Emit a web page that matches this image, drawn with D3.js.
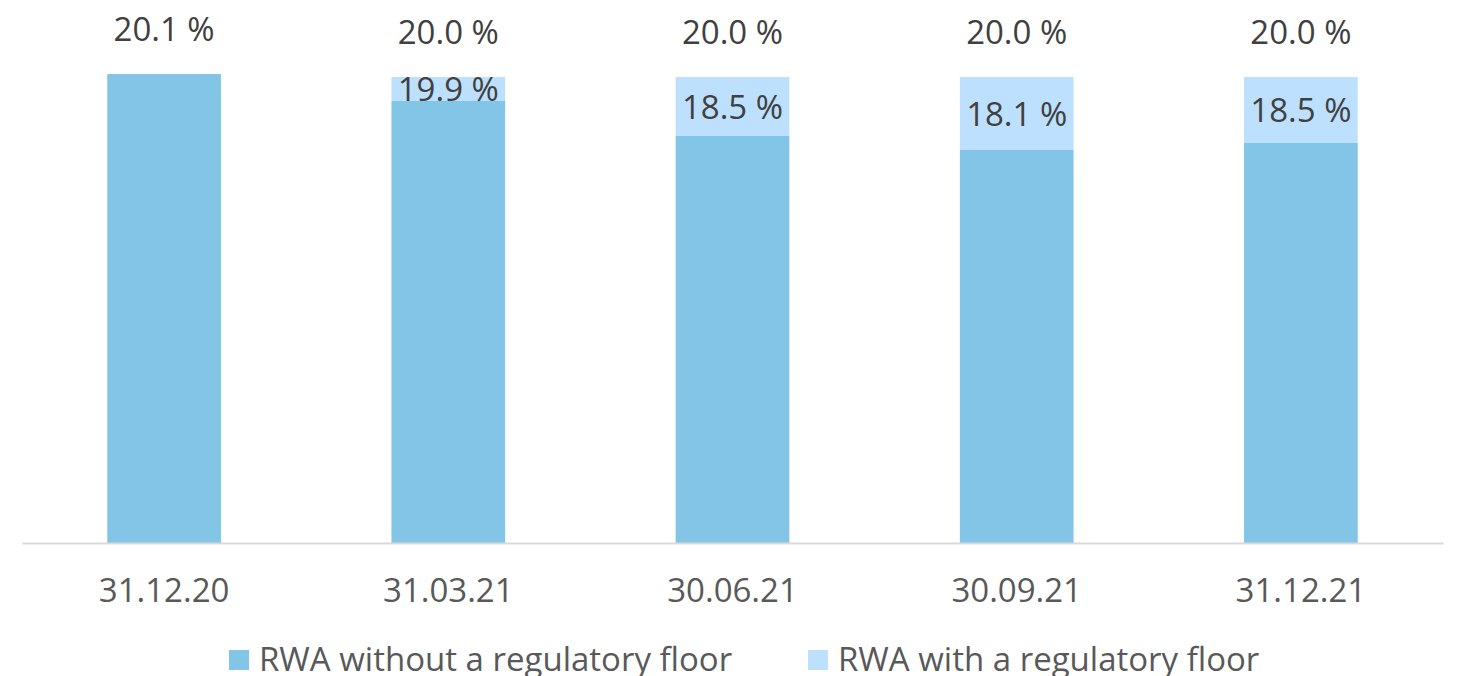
<!DOCTYPE html>
<html>
<head>
<meta charset="utf-8">
<script src="https://cdn.jsdelivr.net/npm/d3@7/dist/d3.min.js"></script>
<style>
  html, body { margin: 0; padding: 0; background: #ffffff; }
  svg { display: block; }
  text { font-family: "Open Sans", "Noto Sans", sans-serif; }
</style>
</head>
<body>
<svg id="chart" width="1463" height="676"></svg>
<script>
// Reporting dates
const dates = ["31.12.20", "31.03.21", "30.06.21", "30.09.21", "31.12.21"];
// RWA amounts (bn) without the regulatory floor
const rwaWithoutFloor = [46.9, 44.2, 40.7, 39.3, 40.0];
// Additional RWA from applying the regulatory floor (bn)
const floorAddOn = [0, 2.4, 5.9, 7.3, 6.6];
// Capital ratio labels shown above each column
const ratioTopLabels = ["20.1 %", "20.0 %", "20.0 %", "20.0 %", "20.0 %"];
// Capital ratio labels shown inside the floor segment
const ratioFloorLabels = [null, "19.9 %", "18.5 %", "18.1 %", "18.5 %"];
// Legend entries
const seriesNames = ["RWA without a regulatory floor", "RWA with a regulatory floor"];

const colors = ["#82C5E7", "#BDE0FE"];
const fontSize = "33px";

const svg = d3.select("#chart");

const x = d3.scaleBand()
  .domain(dates)
  .range([22, 1443])
  .paddingInner(0.6)
  .paddingOuter(0.3);

const y = d3.scaleLinear()
  .domain([0, 50])
  .range([543, 43]);

const rows = dates.map((d, i) => ({
  date: d,
  base: rwaWithoutFloor[i],
  add: floorAddOn[i],
  top: ratioTopLabels[i],
  inner: ratioFloorLabels[i]
}));

// Floor segment (stacked on top)
svg.append("g").selectAll("rect")
  .data(rows.filter(r => r.add > 0))
  .join("rect")
  .attr("x", r => x(r.date))
  .attr("width", x.bandwidth())
  .attr("y", r => y(r.base + r.add))
  .attr("height", r => y(r.base) - y(r.base + r.add))
  .attr("fill", colors[1]);

// Base segment
svg.append("g").selectAll("rect")
  .data(rows)
  .join("rect")
  .attr("x", r => x(r.date))
  .attr("width", x.bandwidth())
  .attr("y", r => y(r.base))
  .attr("height", r => y(0) - y(r.base))
  .attr("fill", colors[0]);

// Category axis
const xAxis = svg.append("g")
  .attr("transform", `translate(0,${y(0)})`)
  .call(d3.axisBottom(x).tickSize(0).tickPadding(36).tickSizeOuter(0));
xAxis.select(".domain").attr("stroke", "#D9D9D9").attr("stroke-width", 2);
xAxis.selectAll("text")
  .attr("fill", "#595959")
  .style("font-size", fontSize)
  .style("font-family", "'Open Sans', sans-serif");

// Ratio labels above columns
svg.append("g").selectAll("text")
  .data(rows)
  .join("text")
  .attr("x", r => x(r.date) + x.bandwidth() / 2)
  .attr("y", r => y(r.base + r.add) - 33)
  .attr("text-anchor", "middle")
  .attr("fill", "#404040")
  .style("font-size", fontSize)
  .text(r => r.top);

// Ratio labels inside the floor segment
svg.append("g").selectAll("text")
  .data(rows.filter(r => r.inner))
  .join("text")
  .attr("x", r => x(r.date) + x.bandwidth() / 2)
  .attr("y", r => (y(r.base) + y(r.base + r.add)) / 2 + 12)
  .attr("text-anchor", "middle")
  .attr("fill", "#404040")
  .style("font-size", fontSize)
  .text(r => r.inner);

// Legend
const legendX = [229, 808];
const legend = svg.append("g").selectAll("g")
  .data(seriesNames)
  .join("g")
  .attr("transform", (d, i) => `translate(${legendX[i]},650)`);
legend.append("rect")
  .attr("width", 20).attr("height", 20)
  .attr("fill", (d, i) => colors[i]);
legend.append("text")
  .attr("x", 30).attr("y", 21)
  .attr("fill", "#595959")
  .style("font-size", fontSize)
  .text(d => d);
</script>
</body>
</html>
